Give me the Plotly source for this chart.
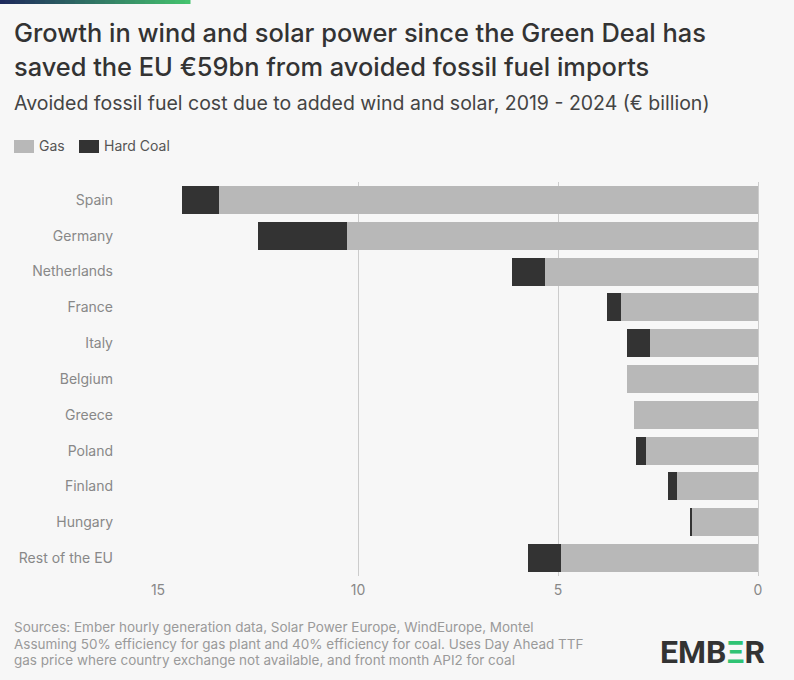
import plotly.graph_objects as go

countries = ["Spain", "Germany", "Netherlands", "France", "Italy", "Belgium",
             "Greece", "Poland", "Finland", "Hungary", "Rest of the EU"]
gas = [13.48, 10.28, 5.33, 3.43, 2.71, 3.27, 3.11, 2.81, 2.02, 1.66, 4.92]
hard_coal = [0.93, 2.21, 0.82, 0.34, 0.57, 0.0, 0.0, 0.24, 0.22, 0.02, 0.82]
x_ticks = [15, 10, 5, 0]

W, H = 794, 680
L, R, T, B = 158, 36, 182, 104
PW, PH = W - L - R, H - T - B

def px(x):
    return (x - L) / PW

def py(y):
    return 1 - (y - T) / PH

BG = "#f7f7f7"
GAS_C = "#b8b8b8"
COAL_C = "#333333"
FONT = "Inter"

fig = go.Figure()
fig.add_trace(go.Bar(y=countries, x=gas, orientation="h", name="Gas",
                     marker=dict(color=GAS_C, line=dict(width=0)), showlegend=False))
fig.add_trace(go.Bar(y=countries, x=hard_coal, orientation="h", name="Hard Coal",
                     marker=dict(color=COAL_C, line=dict(width=0)), showlegend=False))

shapes = []
# gradient top bar
n = 38
c0 = (0x1e, 0x2a, 0x5c)
c1 = (0x45, 0xc3, 0x6e)
for i in range(n):
    t = i / (n - 1)
    col = "rgb(%d,%d,%d)" % tuple(int(c0[k] + (c1[k] - c0[k]) * t) for k in range(3))
    shapes.append(dict(type="rect", xref="paper", yref="paper",
                       x0=px(i * 5), x1=px(i * 5 + 5.5), y0=py(0), y1=py(4),
                       fillcolor=col, line=dict(width=0), layer="above"))
# legend swatches
shapes.append(dict(type="rect", xref="paper", yref="paper", x0=px(14), x1=px(34),
                   y0=py(140), y1=py(153), fillcolor=GAS_C, line=dict(width=0)))
shapes.append(dict(type="rect", xref="paper", yref="paper", x0=px(79), x1=px(99),
                   y0=py(140), y1=py(153), fillcolor=COAL_C, line=dict(width=0)))

annotations = []
def text(x, y, s, size, color, weight=400, anchor="left", family=FONT):
    annotations.append(dict(xref="paper", yref="paper", x=px(x), y=py(y), text=s,
                            showarrow=False, xanchor=anchor, yanchor="middle",
                            font=dict(family=family, size=size, color=color, weight=weight)))

text(12, 33, "Growth in wind and solar power since the Green Deal has", 25.4, "#333333", 500)
text(12, 66, "saved the EU €59bn from avoided fossil fuel imports", 25.4, "#333333", 500)
text(12, 103, "Avoided fossil fuel cost due to added wind and solar, 2019 - 2024 (€ billion)", 19.5, "#444444")
text(37, 146, "Gas", 14, "#555555")
text(102, 146, "Hard Coal", 14, "#555555")
text(12, 627, "Sources: Ember hourly generation data, Solar Power Europe, WindEurope, Montel", 13.5, "#9a9a9a")
text(12, 643.5, "Assuming 50% efficiency for gas plant and 40% efficiency for coal. Uses Day Ahead TTF", 13.5, "#9a9a9a")
text(12, 660, "gas price where country exchange not available, and front month API2 for coal", 13.5, "#9a9a9a")
text(767, 652, "EMB<span style='color:#2fc374'>Ξ</span>R", 32, "#333333", 700, anchor="right", family="Roboto")

fig.update_layout(
    width=W, height=H, barmode="stack", bargap=0.22,
    paper_bgcolor=BG, plot_bgcolor=BG,
    margin=dict(l=L, r=R, t=T, b=B, pad=0),
    font=dict(family=FONT, size=14, color="#888888"),
    shapes=shapes, annotations=annotations,
    xaxis=dict(range=[15, 0], tickvals=x_ticks, ticktext=[str(v) for v in x_ticks],
               showgrid=True, gridcolor="#cccccc", gridwidth=1,
               zeroline=True, zerolinecolor="#cccccc", zerolinewidth=1,
               showline=False, ticks="", tickfont=dict(size=14, color="#888888"),
               ticklabelstandoff=4, fixedrange=True),
    yaxis=dict(categoryorder="array", categoryarray=countries, autorange="reversed",
               showgrid=False, zeroline=False, showline=False, ticks="",
               tickfont=dict(size=14, color="#888888"), ticklabelstandoff=44,
               fixedrange=True),
)

fig.write_html("out.html")
